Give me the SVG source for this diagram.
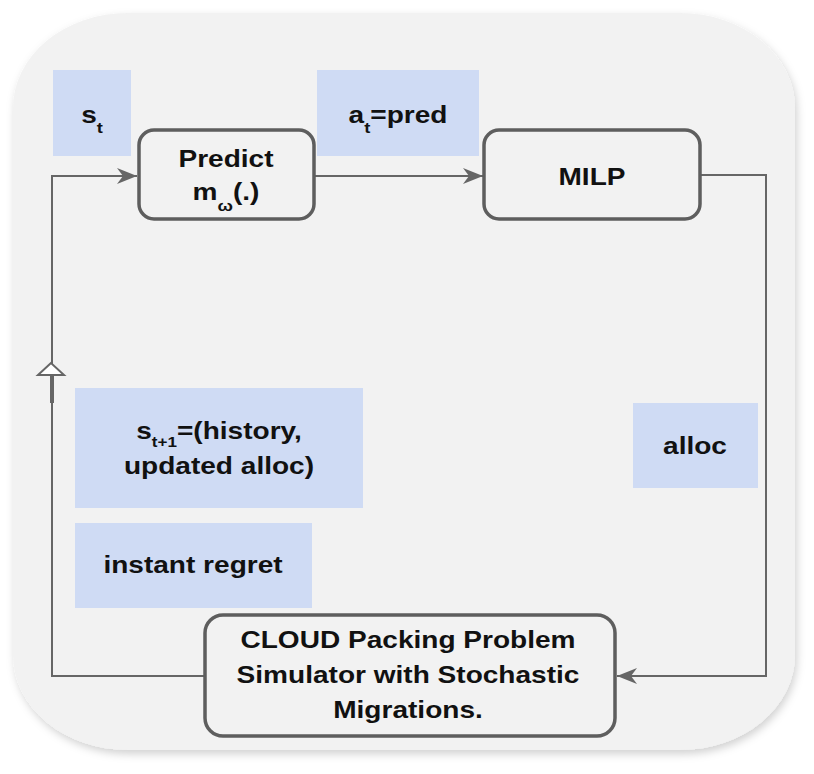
<svg xmlns="http://www.w3.org/2000/svg" width="814" height="774" viewBox="0 0 814 774">
<style>
.t{font-family:"Liberation Sans",Arial,sans-serif;font-weight:bold;font-size:23px;fill:#111;text-anchor:middle}
.box{fill:#f2f2f2;stroke:#5e5e5e;stroke-width:3.5}
.lbl{fill:#cfdbf4}
.con{fill:none;stroke:#666;stroke-width:2}
</style>
<defs>
<filter id="sh" x="-5%" y="-5%" width="112%" height="112%">
<feDropShadow dx="2" dy="4" stdDeviation="4" flood-color="#000" flood-opacity="0.18"/>
</filter>
<marker id="arr" viewBox="0 0 20 18" refX="20" refY="9" markerWidth="20" markerHeight="18" markerUnits="userSpaceOnUse" orient="auto">
<path d="M0,1 L20,9 L0,17 L6,9 Z" fill="#666"/>
</marker>
</defs>
<rect id="background" x="13" y="13" width="782" height="737" rx="115" ry="95" fill="#f2f2f2" filter="url(#sh)"/>

<g id="connectors">
<path class="con" d="M204,676 H52 V176 H137" marker-end="url(#arr)"/>
<path class="con" d="M315,176 H483" marker-end="url(#arr)"/>
<path class="con" d="M701,175 H766 V676 H617" marker-end="url(#arr)"/>
<line x1="52" y1="375" x2="52" y2="403" stroke="#666" stroke-width="4"/>
<polygon points="51,363 38,375 64,375" fill="#fff" stroke="#666" stroke-width="2"/>
</g>

<g id="label-st">
<rect class="lbl" x="53" y="70" width="78" height="86"/>
<text class="t" transform="translate(92,123) scale(1.22,1)">s<tspan font-size="15" dy="10">t</tspan></text>
</g>
<g id="label-at">
<rect class="lbl" x="317" y="70" width="162" height="86"/>
<text class="t" transform="translate(398,123) scale(1.22,1)">a<tspan font-size="15" dy="10">t</tspan><tspan dy="-10">=pred</tspan></text>
</g>
<g id="node-predict">
<rect class="box" x="139" y="130" width="175" height="89" rx="15"/>
<text class="t" transform="translate(226,167) scale(1.22,1)">Predict</text>
<text class="t" transform="translate(226,200) scale(1.22,1)">m<tspan font-size="15" dy="11">ω</tspan><tspan dy="-11">(.)</tspan></text>
</g>
<g id="node-milp">
<rect class="box" x="484" y="130" width="216" height="89" rx="15"/>
<text class="t" transform="translate(592,185) scale(1.22,1)">MILP</text>
</g>
<g id="label-alloc">
<rect class="lbl" x="633" y="403" width="125" height="85"/>
<text class="t" transform="translate(695,454) scale(1.22,1)">alloc</text>
</g>
<g id="label-st1">
<rect class="lbl" x="75" y="388" width="288" height="120"/>
<text class="t" transform="translate(219,439) scale(1.22,1)">s<tspan font-size="14" dy="8">t+1</tspan><tspan dy="-8">=(history,</tspan></text>
<text class="t" transform="translate(219,474) scale(1.22,1)">updated alloc)</text>
</g>
<g id="label-regret">
<rect class="lbl" x="75" y="523" width="237" height="85"/>
<text class="t" transform="translate(193,573) scale(1.22,1)">instant regret</text>
</g>
<g id="node-simulator">
<rect class="box" x="205" y="615" width="410" height="121" rx="18"/>
<text class="t" transform="translate(408,648) scale(1.22,1)">CLOUD Packing Problem</text>
<text class="t" transform="translate(408,683) scale(1.22,1)">Simulator with Stochastic</text>
<text class="t" transform="translate(408,718) scale(1.22,1)">Migrations.</text>
</g>
</svg>
